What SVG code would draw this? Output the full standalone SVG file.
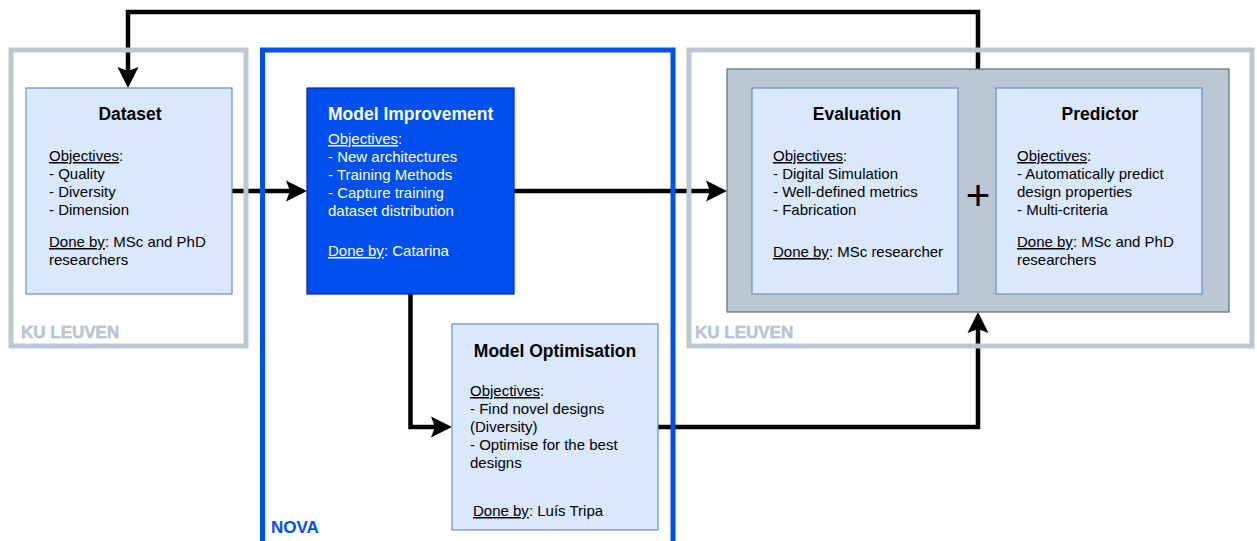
<svg xmlns="http://www.w3.org/2000/svg" width="1257" height="541" viewBox="0 0 1257 541">
  <style>
    text { font-family: "Liberation Sans", Arial, sans-serif; }
    .title { font-size: 17.5px; font-weight: bold; fill: #000; }
    .body { font-size: 15px; fill: #000; }
    .white { fill: #fff; }
    .u { text-decoration: underline; }
    .card { fill: #dae8fc; stroke: #6c8ebf; stroke-width: 1.2; }
    .frame-ku { fill: none; stroke: #bac8d3; stroke-width: 5; }
    .frame-nova { fill: none; stroke: #0050ef; stroke-width: 5; }
    .frame-label-ku { font-size: 17px; font-weight: bold; fill: #bac8d3; stroke: #a9b7c3; stroke-width: 0.4; }
    .frame-label-nova { font-size: 17px; font-weight: bold; fill: #0050ef; }
    .edge { fill: none; stroke: #000; stroke-width: 4.5; stroke-linejoin: miter; }
  </style>
  <defs>
    <!-- classic notched arrowhead; the path ends at the notch, the tip sits 17px further on -->
    <marker id="arrow" markerUnits="userSpaceOnUse" markerWidth="24" markerHeight="24" viewBox="-5 -12 24 24" refX="0" refY="0" orient="auto">
      <path d="M17,0 L-4,-10.5 L0,0 L-4,10.5 Z" fill="#000"/>
    </marker>
  </defs>

  <rect width="1257" height="541" fill="#fff"/>

  <!-- connectors -->
  <g id="connectors">
    <path class="edge" d="M978,69 V12 H128 V71" marker-end="url(#arrow)"/>
    <path class="edge" d="M232,191 H290" marker-end="url(#arrow)"/>
    <path class="edge" d="M514,191 H710" marker-end="url(#arrow)"/>
    <path class="edge" d="M410.5,294 V427 H435" marker-end="url(#arrow)"/>
    <path class="edge" d="M658,427 H978 V329" marker-end="url(#arrow)"/>
  </g>

  <!-- organisation frames -->
  <g id="frame-ku-left">
    <rect class="frame-ku" x="11" y="50" width="235" height="296"/>
    <text class="frame-label-ku" x="21" y="338">KU LEUVEN</text>
  </g>
  <g id="frame-nova">
    <rect class="frame-nova" x="262.5" y="50" width="410.5" height="510"/>
    <text class="frame-label-nova" x="271" y="533">NOVA</text>
  </g>
  <g id="frame-ku-right">
    <rect class="frame-ku" x="689" y="50" width="563" height="296"/>
    <text class="frame-label-ku" x="695" y="338">KU LEUVEN</text>
  </g>

  <!-- nodes -->
  <g id="dataset">
    <rect class="card" x="26" y="88" width="206" height="206"/>
    <text class="title" x="130" y="120" text-anchor="middle">Dataset</text>
    <text class="body" x="49" y="161"><tspan class="u">Objectives</tspan>:</text>
    <text class="body" x="49" y="179">- Quality</text>
    <text class="body" x="49" y="197">- Diversity</text>
    <text class="body" x="49" y="215">- Dimension</text>
    <text class="body" x="49" y="247"><tspan class="u">Done by</tspan>: MSc and PhD</text>
    <text class="body" x="49" y="265">researchers</text>
  </g>

  <g id="model-improvement">
    <rect x="307" y="88" width="207" height="206" fill="#0050ef" stroke="#001dbc" stroke-width="1.2"/>
    <text class="title white" x="328" y="120">Model Improvement</text>
    <text class="body white" x="328" y="144"><tspan class="u">Objectives</tspan>:</text>
    <text class="body white" x="328" y="162">- New architectures</text>
    <text class="body white" x="328" y="180">- Training Methods</text>
    <text class="body white" x="328" y="198">- Capture training</text>
    <text class="body white" x="328" y="216">dataset distribution</text>
    <text class="body white" x="328" y="256"><tspan class="u">Done by</tspan>: Catarina</text>
  </g>

  <g id="model-optimisation">
    <rect class="card" x="452" y="324" width="206" height="206"/>
    <text class="title" x="555" y="357" text-anchor="middle">Model Optimisation</text>
    <text class="body" x="470" y="396"><tspan class="u">Objectives</tspan>:</text>
    <text class="body" x="470" y="414">- Find novel designs</text>
    <text class="body" x="470" y="432">(Diversity)</text>
    <text class="body" x="470" y="450">- Optimise for the best</text>
    <text class="body" x="470" y="468">designs</text>
    <text class="body" x="473" y="516"><tspan class="u">Done by</tspan>: Luís Tripa</text>
  </g>

  <g id="evaluation-predictor">
    <rect x="727" y="69" width="502" height="243" fill="#bac8d3" stroke="#5b6f80" stroke-width="1.2"/>
    <text x="978" y="210" text-anchor="middle" font-size="42" fill="#000">+</text>
  </g>

  <g id="evaluation">
    <rect class="card" x="752" y="88" width="206" height="206"/>
    <text class="title" x="857" y="120" text-anchor="middle">Evaluation</text>
    <text class="body" x="773" y="161"><tspan class="u">Objectives</tspan>:</text>
    <text class="body" x="773" y="179">- Digital Simulation</text>
    <text class="body" x="773" y="197">- Well-defined metrics</text>
    <text class="body" x="773" y="215">- Fabrication</text>
    <text class="body" x="773" y="257"><tspan class="u">Done by</tspan>: MSc researcher</text>
  </g>

  <g id="predictor">
    <rect class="card" x="996" y="88" width="206" height="206"/>
    <text class="title" x="1100" y="120" text-anchor="middle">Predictor</text>
    <text class="body" x="1017" y="161"><tspan class="u">Objectives</tspan>:</text>
    <text class="body" x="1017" y="179">- Automatically predict</text>
    <text class="body" x="1017" y="197">design properties</text>
    <text class="body" x="1017" y="215">- Multi-criteria</text>
    <text class="body" x="1017" y="247"><tspan class="u">Done by</tspan>: MSc and PhD</text>
    <text class="body" x="1017" y="265">researchers</text>
  </g>
</svg>
